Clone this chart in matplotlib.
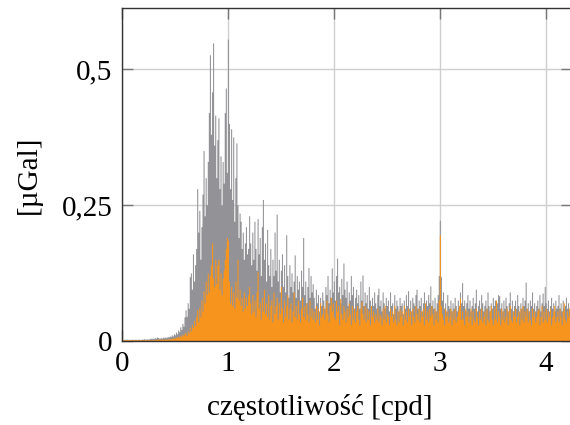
import numpy as np
import matplotlib
matplotlib.use('Agg')
import matplotlib.pyplot as plt

# amplitudy widma w nGal (1 uGal = 1000 nGal), krok 0.01 cpd od 0 do 4.25
gray_ngal = [
    # 0.00 - 0.34
    3, 2, 3, 2, 3, 3, 2, 3, 2, 3, 3, 2, 3, 3, 2, 3, 3, 2, 3, 3,
    3, 4, 3, 3, 4, 3, 4, 5, 4, 5, 4, 6, 5, 7, 6,
    # 0.35 - 0.59
    5, 5, 6, 5, 7, 6, 7, 6, 8, 7, 9, 8, 11, 9, 13, 11, 16, 13, 20, 17,
    26, 21, 32, 27, 44,
    # 0.60 - 1.20
    57, 45, 70, 60, 118, 125, 95, 160, 110, 140,
    170, 280, 200, 240, 150, 210, 270, 350, 230, 300,
    250, 330, 420, 526, 380, 458, 548, 360, 415, 300,
    370, 410, 280, 340, 250, 330, 290, 420, 465, 310,
    555, 400, 280, 390, 260, 375, 220, 300, 364, 250,
    190, 235, 220, 170, 200, 150, 180, 210, 160, 170,
    230,
    # 1.21 - 1.80
    180, 140, 200, 150, 220, 170, 130, 225, 160, 190,
    120, 210, 260, 150, 180, 110, 205, 140, 120, 170,
    100, 150, 120, 200, 130, 233, 110, 150, 90, 130,
    160, 100, 140, 90, 195, 120, 80, 140, 100, 125,
    90, 110, 158, 80, 120, 95, 110, 75, 130, 100,
    190, 85, 110, 70, 100, 135, 80, 120, 90, 105,
    # 1.81 - 4.25
    80, 60, 95, 70, 85, 55, 80, 65, 90, 75,
    60, 100, 85, 120, 70, 95, 80, 134, 90, 110,
    75, 120, 152, 90, 100, 70, 115, 85, 143, 95,
    80, 110, 65, 90, 75, 120, 85, 100, 60, 80,
    95, 70, 85, 60, 110, 75, 121, 65, 90, 70,
    85, 60, 100, 75, 55, 80, 65, 90, 70, 60,
    85, 97, 65, 75, 55, 90, 70, 60, 80, 65,
    75, 55, 90, 65, 70, 50, 85, 60, 75, 65,
    55, 80, 65, 70, 50, 75, 60, 85, 65, 92,
    60, 75, 55, 80, 70, 65, 85, 95, 60, 75,
    65, 80, 55, 70, 90, 60, 75, 65, 85, 70,
    101, 65, 75, 60, 80, 55, 70, 85, 120, 222,
    118, 75, 90, 60, 70, 55, 85, 65, 60, 75,
    55, 70, 60, 80, 65, 55, 75, 60, 90, 70,
    107, 65, 75, 55, 70, 85, 60, 75, 55, 65,
    80, 60, 70, 95, 55, 65, 75, 60, 85, 70,
    55, 65, 75, 60, 90, 65, 55, 70, 60, 80,
    65, 75, 60, 70, 85, 83, 60, 70, 55, 75,
    60, 80, 65, 55, 70, 90, 60, 75, 55, 65,
    75, 60, 85, 65, 55, 70, 60, 80, 65, 75,
    108, 60, 70, 55, 75, 65, 90, 60, 70, 55,
    65, 75, 60, 85, 55, 70, 88, 65, 100, 70,
    60, 75, 55, 65, 80, 60, 70, 55, 75, 60,
    65, 85, 60, 70, 55, 75, 60, 65, 80, 60,
    70, 55, 65, 75, 60,
]

orange_ngal = [
    # 0.00 - 0.34
    2, 2, 2, 2, 2, 2, 2, 2, 2, 2, 2, 2, 2, 2, 2, 2, 2, 2, 2, 2,
    2, 2, 2, 2, 2, 2, 2, 2, 2, 2, 2, 2, 3, 3, 3,
    # 0.35 - 0.59
    3, 3, 3, 3, 3, 3, 3, 3, 4, 3, 4, 4, 5, 4, 6, 5, 7, 6, 8, 7,
    10, 8, 12, 10, 14,
    # 0.60 - 1.20
    15, 10, 18, 14, 25, 18, 30, 24, 38, 28,
    45, 57, 35, 62, 45, 75, 55, 92, 70, 110,
    85, 125, 90, 120, 140, 180, 115, 100, 150, 105,
    140, 150, 95, 125, 85, 115, 130, 150, 170, 190,
    185, 110, 70, 100, 65, 90, 60, 110, 80, 150,
    75, 95, 65, 80, 55, 90, 60, 80, 65, 85,
    100,
    # 1.21 - 1.80
    70, 50, 85, 55, 75, 45, 90, 127, 60, 70,
    40, 80, 55, 95, 50, 70, 45, 85, 40, 65,
    75, 35, 90, 50, 65, 80, 40, 70, 50, 100,
    60, 35, 75, 45, 65, 85, 40, 60, 70, 35,
    55, 90, 45, 65, 40, 75, 50, 35, 60, 80,
    45, 65, 40, 70, 50, 35, 75, 45, 60, 40,
    # 1.81 - 4.25
    55, 35, 65, 40, 60, 30, 70, 45, 50, 65,
    40, 60, 75, 50, 35, 65, 80, 55, 70, 45,
    40, 75, 55, 65, 30, 78, 50, 40, 65, 55,
    35, 60, 45, 70, 50, 30, 65, 40, 60, 35,
    55, 65, 40, 30, 60, 72, 50, 40, 65, 35,
    60, 40, 55, 30, 65, 45, 55, 35, 50, 40,
    60, 35, 50, 45, 30, 60, 40, 65, 35, 50,
    45, 30, 60, 45, 55, 35, 65, 40, 30, 55,
    35, 60, 45, 55, 30, 65, 40, 55, 35, 60,
    45, 55, 30, 60, 45, 35, 65, 50, 40, 60,
    35, 55, 45, 60, 30, 70, 40, 55, 35, 60,
    45, 65, 50, 30, 60, 40, 55, 35, 75, 195,
    65, 50, 40, 30, 60, 45, 55, 35, 45, 60,
    30, 55, 40, 60, 35, 45, 55, 65, 79, 40,
    55, 40, 30, 60, 45, 55, 35, 45, 60, 30,
    55, 40, 35, 60, 45, 30, 55, 40, 60, 35,
    45, 55, 30, 60, 40, 35, 55, 65, 40, 30,
    60, 40, 75, 35, 55, 45, 30, 60, 40, 55,
    35, 45, 60, 30, 55, 65, 40, 35, 55, 45,
    60, 35, 45, 55, 30, 60, 40, 65, 35, 55,
    45, 60, 35, 55, 40, 30, 60, 45, 55, 35,
    45, 55, 60, 30, 45, 65, 35, 55, 40, 60,
    35, 55, 45, 60, 30, 45, 55, 65, 35, 45,
    55, 35, 60, 45, 30, 55, 70, 40, 35, 55,
    45, 60, 35, 55, 40,
]

freq_step = 0.01  # cpd
freq = np.arange(len(gray_ngal)) * freq_step
gray = np.array(gray_ngal) / 1000.0
orange = np.array(orange_ngal) / 1000.0

x_ticks = [0, 1, 2, 3, 4]
y_ticks = [0, 0.25, 0.5]
y_tick_labels = ['0', '0,25', '0,5']

plt.rcParams['font.family'] = ['Liberation Serif', 'DejaVu Serif']

fig = plt.figure(figsize=(5.7, 4.25), dpi=100)
ax = fig.add_axes([0.214, 0.198, 0.79, 0.783])

ax.fill_between(freq, gray, step='mid', color='#939397', linewidth=0, zorder=2)
ax.fill_between(freq, orange, step='mid', color='#f7941d', linewidth=0, zorder=3)

ax.set_xlim(0, 4.25)
ax.set_ylim(0, 0.612)
ax.set_xticks(x_ticks)
ax.set_yticks(y_ticks)
ax.set_yticklabels(y_tick_labels)

ax.grid(True, color='#cfcfcf', linewidth=1.0, zorder=1)
ax.set_axisbelow(True)
ax.tick_params(direction='in', length=8, width=1, color='#777777',
               top=True, right=True, labelsize=21, pad=7)
for s in ax.spines.values():
    s.set_color('#333333')
    s.set_linewidth(1.0)
    s.set_zorder(4)

ax.set_xlabel('częstotliwość [cpd]', fontsize=21)
ax.xaxis.set_label_coords(0.44, -0.16)
ax.set_ylabel('[µGal]', fontsize=21, labelpad=14)

fig.savefig('out.png', dpi=100)
